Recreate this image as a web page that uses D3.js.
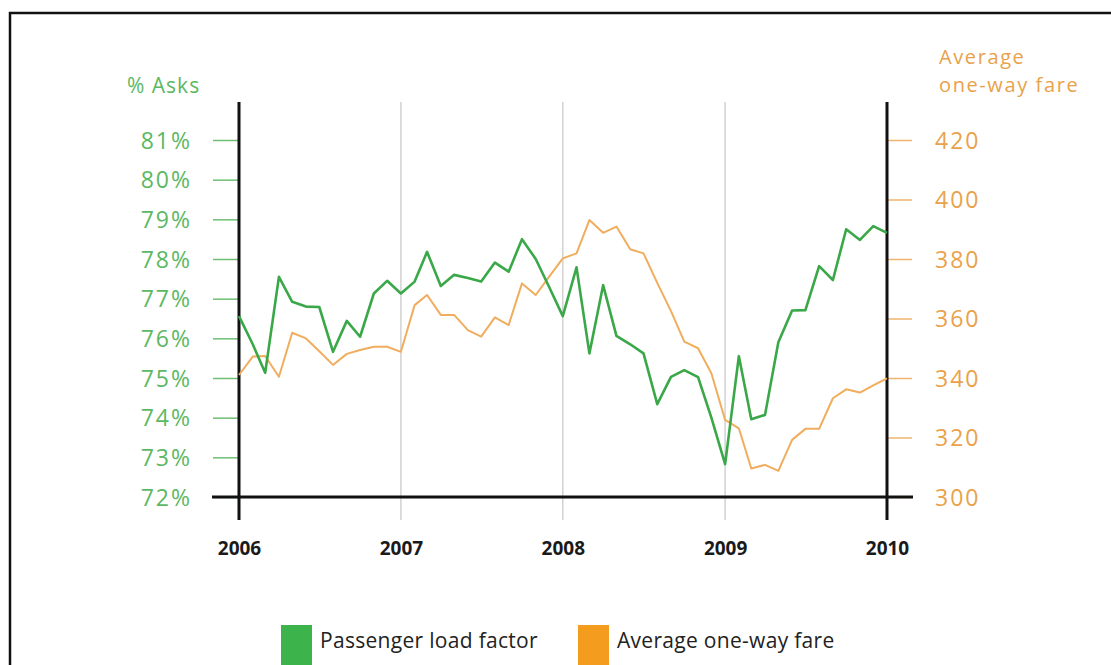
<!DOCTYPE html>
<html>
<head>
<meta charset="utf-8">
<script src="https://cdn.jsdelivr.net/npm/d3@7"></script>
<style>
  html, body { margin: 0; padding: 0; background: #fff; }
  svg { display: block; font-family: "Open Sans", "Noto Sans", sans-serif; }
</style>
</head>
<body>
<svg id="chart" width="1111" height="665"></svg>
<script>
// Monthly series, January 2006 through January 2010
const startMonth = [2006, 0];
const loadFactor = [
  76.56, 75.85, 75.13, 77.55, 76.92, 76.80, 76.79, 75.66, 76.44, 76.04, 77.13, 77.45,
  77.13, 77.43, 78.18, 77.32, 77.60, 77.52, 77.43, 77.91, 77.68, 78.50, 78.00, 77.30,
  76.56, 77.79, 75.62, 77.34, 76.06, 75.85, 75.62, 74.34, 75.03, 75.20, 75.02, 74.00,
  72.83, 75.55, 73.96, 74.07, 75.90, 76.70, 76.71, 77.82, 77.47, 78.75, 78.48, 78.83,
  78.66
];
const oneWayFare = [
  341.0, 347.2, 347.4, 340.4, 355.2, 353.3, 349.0, 344.4, 348.1, 349.4, 350.5, 350.5,
  348.8, 364.5, 367.9, 361.2, 361.2, 356.1, 353.9, 360.4, 357.8, 371.8, 367.9, 374.0,
  380.2, 381.9, 393.1, 388.8, 390.9, 383.3, 381.9, 372.0, 362.5, 352.2, 350.0, 341.6,
  325.9, 323.1, 309.6, 310.8, 308.8, 319.2, 322.9, 322.9, 333.2, 336.2, 335.1, 337.5,
  339.9
];
const yearTicks = [2006, 2007, 2008, 2009, 2010];
const loadTicks = [72, 73, 74, 75, 76, 77, 78, 79, 80, 81];
const fareTicks = [300, 320, 340, 360, 380, 400, 420];
const legendItems = ["Passenger load factor", "Average one-way fare"];

const GREEN_LINE = "#3aa848", GREEN_TEXT = "#5cb862", GREEN_TICK = "#6dbf72";
const ORANGE_LINE = "#f0ad5e", ORANGE_TEXT = "#e9a24b", ORANGE_TICK = "#efb56f";
const LEGEND_GREEN = "#3cb44b", LEGEND_ORANGE = "#f39c1e";

const svg = d3.select("#chart");

// Outer frame
svg.append("path")
  .attr("d", "M10,665 V13 H1111")
  .attr("fill", "none").attr("stroke", "#111").attr("stroke-width", 2.5);

const months = loadFactor.map((_, i) => new Date(Date.UTC(startMonth[0], startMonth[1] + i, 1)));

const x = d3.scaleUtc()
  .domain([new Date(Date.UTC(2006, 0, 1)), new Date(Date.UTC(2010, 0, 1))])
  .range([239, 887]);
const yL = d3.scaleLinear().domain([72, 81]).range([497, 140]);
const yR = d3.scaleLinear().domain([300, 420]).range([497, 140]);

const plotTop = 102, plotBottom = 520;

// Year gridlines
svg.append("g").selectAll("line")
  .data(yearTicks.slice(1, -1))
  .join("line")
  .attr("x1", d => x(new Date(Date.UTC(d, 0, 1))))
  .attr("x2", d => x(new Date(Date.UTC(d, 0, 1))))
  .attr("y1", plotTop).attr("y2", plotBottom)
  .attr("stroke", "#d2d2d2").attr("stroke-width", 1.5);

// Left axis (load factor)
const leftAxis = d3.axisLeft(yL).tickValues(loadTicks)
  .tickSize(26).tickPadding(21).tickFormat(d => d + "%");
const gL = svg.append("g").attr("transform", "translate(239,0)").call(leftAxis);
gL.select(".domain").remove();
gL.selectAll(".tick line").attr("stroke", GREEN_TICK).attr("stroke-width", 1.5);
gL.selectAll(".tick text")
  .attr("fill", GREEN_TEXT).attr("font-size", 23).attr("font-family", "Open Sans, sans-serif")
  .attr("letter-spacing", 2).attr("dy", "0.36em");

// Right axis (fare)
const rightAxis = d3.axisRight(yR).tickValues(fareTicks)
  .tickSize(25).tickPadding(23);
const gR = svg.append("g").attr("transform", "translate(887,0)").call(rightAxis);
gR.select(".domain").remove();
gR.selectAll(".tick line").attr("stroke", ORANGE_TICK).attr("stroke-width", 1.5);
gR.selectAll(".tick text")
  .attr("fill", ORANGE_TEXT).attr("font-size", 23).attr("font-family", "Open Sans, sans-serif")
  .attr("letter-spacing", 2).attr("dy", "0.36em");

// Bottom axis: year labels
const bottomAxis = d3.axisBottom(x)
  .tickValues(yearTicks.map(y => new Date(Date.UTC(y, 0, 1))))
  .tickSize(0).tickPadding(0).tickFormat(d3.utcFormat("%Y"));
const gB = svg.append("g").attr("transform", "translate(0,548)").call(bottomAxis);
gB.select(".domain").remove();
gB.selectAll(".tick text")
  .attr("fill", "#1a1a1a").attr("font-size", 19).attr("font-weight", "bold")
  .attr("font-family", "Open Sans, sans-serif").attr("y", 0).attr("dy", "0.35em");

// Black frame of the plot: two vertical axes and the baseline
svg.append("line").attr("x1", 239).attr("x2", 239).attr("y1", plotTop).attr("y2", plotBottom)
  .attr("stroke", "#111").attr("stroke-width", 3);
svg.append("line").attr("x1", 887).attr("x2", 887).attr("y1", plotTop).attr("y2", plotBottom)
  .attr("stroke", "#111").attr("stroke-width", 3);
svg.append("line").attr("x1", 212).attr("x2", 913).attr("y1", yL(72)).attr("y2", yL(72))
  .attr("stroke", "#111").attr("stroke-width", 3);

// Series lines
const fareLine = d3.line().x((d, i) => x(months[i])).y(d => yR(d));
const loadLine = d3.line().x((d, i) => x(months[i])).y(d => yL(d));

svg.append("path").datum(oneWayFare)
  .attr("d", fareLine).attr("fill", "none")
  .attr("stroke", ORANGE_LINE).attr("stroke-width", 2).attr("stroke-linejoin", "round");
svg.append("path").datum(loadFactor)
  .attr("d", loadLine).attr("fill", "none")
  .attr("stroke", GREEN_LINE).attr("stroke-width", 2.6).attr("stroke-linejoin", "round");

// Axis titles
svg.append("text").attr("x", 127).attr("y", 93)
  .attr("fill", GREEN_TEXT).attr("font-size", 21).attr("letter-spacing", 1).text("% Asks");
svg.append("text").attr("x", 939).attr("y", 64)
  .attr("fill", ORANGE_TEXT).attr("font-size", 20).attr("letter-spacing", 1.6).text("Average");
svg.append("text").attr("x", 939).attr("y", 92)
  .attr("fill", ORANGE_TEXT).attr("font-size", 20).attr("letter-spacing", 1.6).text("one-way fare");

// Legend
const legend = svg.append("g");
const legendX = [281, 578];
const legendColors = [LEGEND_GREEN, LEGEND_ORANGE];
legendItems.forEach((label, i) => {
  legend.append("rect").attr("x", legendX[i]).attr("y", 625)
    .attr("width", 31).attr("height", 45).attr("fill", legendColors[i]);
  legend.append("text").attr("x", legendX[i] + 39).attr("y", 648)
    .attr("fill", "#222").attr("font-size", 21).attr("letter-spacing", 0.3).text(label);
});
</script>
</body>
</html>
